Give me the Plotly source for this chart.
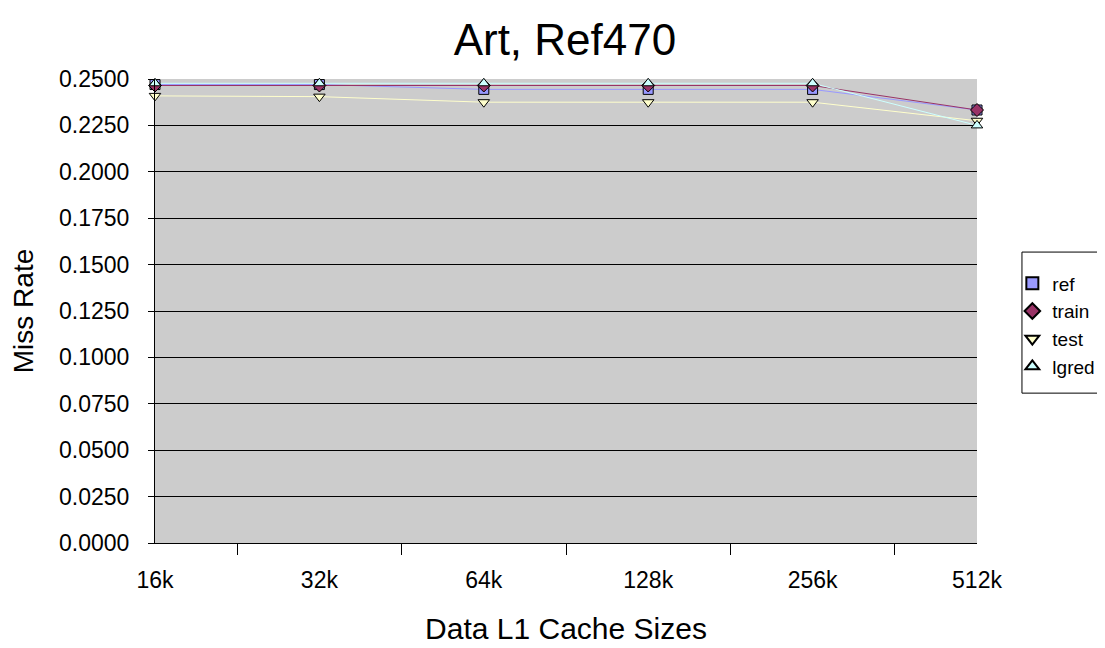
import plotly.graph_objects as go

categories = ["16k", "32k", "64k", "128k", "256k", "512k"]
ref = [0.2470, 0.2470, 0.2444, 0.2444, 0.2444, 0.2333]
train = [0.2465, 0.2465, 0.2465, 0.2465, 0.2465, 0.2333]
test = [0.2409, 0.2405, 0.2375, 0.2375, 0.2375, 0.2275]
lgred = [0.2477, 0.2477, 0.2477, 0.2477, 0.2477, 0.2250]
y_ticks = [i * 0.025 for i in range(11)]

series = [
    ("ref", ref, "#9999FF", "square"),
    ("train", train, "#993366", "diamond"),
    ("test", test, "#FFFFCC", "triangle-down"),
    ("lgred", lgred, "#CCFFFF", "triangle-up"),
]

fig = go.Figure()
for name, vals, color, sym in series:
    fig.add_trace(go.Scatter(
        x=categories, y=vals, name=name, mode="lines", showlegend=False,
        line=dict(color=color, width=1), cliponaxis=False, hoverinfo="skip",
    ))
for name, vals, color, sym in series:
    fig.add_trace(go.Scatter(
        x=categories, y=vals, name=name, mode="markers",
        marker=dict(symbol=sym, size=10, color=color, line=dict(color="#000000", width=1)),
        cliponaxis=False,
    ))

# legend frame
fig.add_shape(type="rect", xref="paper", yref="paper",
              x0=1.0547, x1=1.152, y0=0.323, y1=0.627,
              line=dict(color="black", width=1), fillcolor="white", layer="below")

fig.update_layout(
    width=1105, height=648,
    margin=dict(l=147, r=136, t=71, b=113, autoexpand=False),
    paper_bgcolor="white", plot_bgcolor="#CCCCCC",
    font=dict(family="Liberation Sans, Arial", color="black", size=23),
    title=dict(text="Art, Ref470", x=0.504, xanchor="center", y=0.951, yanchor="middle",
               font=dict(size=44)),
    xaxis=dict(type="category", range=[0, 5], tickson="boundaries", ticks="outside",
               ticklen=11, tickcolor="black", showgrid=False, showline=True,
               linecolor="black", linewidth=1, zeroline=False, ticklabelstandoff=16,
               title=dict(text="Data L1 Cache Sizes", font=dict(size=30), standoff=26)),
    yaxis=dict(range=[0, 0.25], tickvals=y_ticks, tickformat=".4f", ticks="outside",
               ticklen=6, tickcolor="black", showgrid=True, gridcolor="black", gridwidth=1,
               showline=True, linecolor="black", linewidth=1, zeroline=False,
               ticklabelstandoff=14,
               title=dict(text="Miss Rate", font=dict(size=28), standoff=24)),
    legend=dict(x=1.043, y=0.470, xanchor="left", yanchor="middle", bgcolor="rgba(0,0,0,0)",
                borderwidth=0, font=dict(size=19),
                itemsizing="constant", itemwidth=30, tracegroupgap=0),
    showlegend=True,
)

fig.write_html("out.html")
